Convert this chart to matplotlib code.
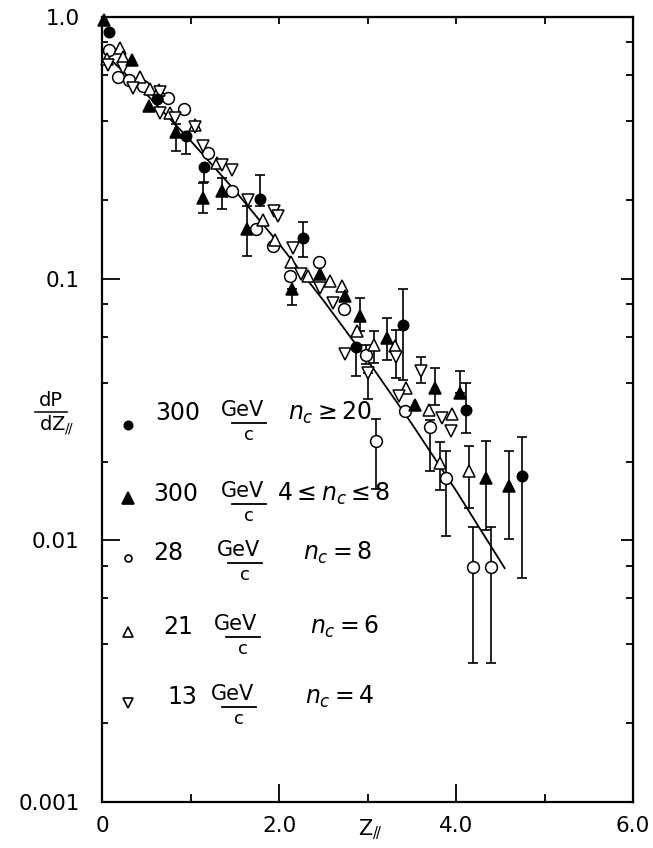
import numpy as np
import matplotlib.pyplot as plt
from matplotlib.ticker import FixedLocator, NullFormatter, LogLocator

# ---- data ----
# 300 GeV/c, n_c >= 20 (filled circles)
fc_z = [0.08, 0.62, 0.95, 1.15, 1.79, 2.27, 2.87, 3.40, 4.11, 4.75]
fc_y = [0.88, 0.485, 0.35, 0.268, 0.201, 0.143, 0.0548, 0.0667, 0.0316, 0.0176]
fc_err_z = [0.95, 1.15, 1.79, 2.27, 2.87, 3.40, 4.11, 4.75]
fc_err_y = [0.35, 0.268, 0.201, 0.143, 0.0548, 0.0667, 0.0316, 0.0176]
fc_err_lo = [0.30, 0.235, 0.19, 0.121, 0.0424, 0.0411, 0.0258, 0.0072]
fc_err_hi = [0.35, 0.268, 0.248, 0.164, 0.0548, 0.0913, 0.040, 0.0249]

# 300 GeV/c, 4 <= n_c <= 8 (filled triangles)
ft_z = [0.02, 0.335, 0.53, 0.84, 1.14, 1.36, 1.64, 2.15, 2.46, 2.75, 2.92,
        3.22, 3.54, 3.76, 4.04, 4.34, 4.60]
ft_y = [0.97, 0.685, 0.455, 0.365, 0.203, 0.216, 0.155, 0.091, 0.104, 0.0856,
        0.0718, 0.0594, 0.033, 0.0383, 0.0366, 0.0173, 0.0161]
ft_err_z = [0.84, 1.14, 1.36, 1.64, 2.15, 2.92, 3.22, 3.76, 4.04, 4.34, 4.60]
ft_err_y = [0.365, 0.203, 0.216, 0.155, 0.091, 0.0718, 0.0594, 0.0383, 0.0366, 0.0173, 0.0161]
ft_err_lo = [0.308, 0.178, 0.185, 0.122, 0.079, 0.063, 0.049, 0.033, 0.0366, 0.011, 0.0101]
ft_err_hi = [0.39, 0.232, 0.242, 0.189, 0.091, 0.084, 0.0708, 0.0457, 0.0442, 0.024, 0.0219]

# 28 GeV/c, n_c = 8 (open circles)
oc_z = [0.08, 0.185, 0.30, 0.46, 0.75, 0.93, 1.20, 1.47, 1.74, 1.93, 2.12,
        2.45, 2.73, 2.98, 3.10, 3.42, 3.71, 3.89, 4.19, 4.40]
oc_y = [0.748, 0.59, 0.575, 0.545, 0.49, 0.446, 0.303, 0.216, 0.155, 0.133,
        0.102, 0.116, 0.0766, 0.0513, 0.0239, 0.0312, 0.0272, 0.0173, 0.0079, 0.0079]
oc_err_z = [2.98, 3.10, 3.71, 3.89, 4.19, 4.40]
oc_err_y = [0.0513, 0.0239, 0.0272, 0.0173, 0.0079, 0.0079]
oc_err_lo = [0.047, 0.0157, 0.0184, 0.0104, 0.0034, 0.0034]
oc_err_hi = [0.056, 0.0291, 0.0289, 0.0219, 0.0112, 0.0112]

# 21 GeV/c, n_c = 6 (open triangles up)
ot_z = [0.06, 0.20, 0.24, 0.43, 0.54, 0.64, 0.77, 1.05, 1.30, 1.82, 1.95, 2.14,
        2.33, 2.58, 2.71, 2.88, 3.07, 3.31, 3.44, 3.69, 3.82, 3.96, 4.15]
ot_y = [0.69, 0.759, 0.705, 0.592, 0.53, 0.526, 0.429, 0.387, 0.276, 0.168,
        0.141, 0.116, 0.102, 0.0977, 0.094, 0.0629, 0.056, 0.0551, 0.0383,
        0.0316, 0.0198, 0.0305, 0.0184]
ot_err_z = [3.07, 3.82, 4.15]
ot_err_y = [0.056, 0.0198, 0.0184]
ot_err_lo = [0.0476, 0.0156, 0.0133]
ot_err_hi = [0.063, 0.0238, 0.0229]

# 13 GeV/c, n_c = 4 (open triangles down)
od_z = [0.07, 0.24, 0.35, 0.66, 0.65, 0.82, 1.05, 1.14, 1.36, 1.47, 1.65, 1.94,
        1.99, 2.16, 2.25, 2.46, 2.61, 2.75, 3.00, 3.32, 3.36, 3.61, 3.84, 3.94]
od_y = [0.656, 0.637, 0.534, 0.519, 0.429, 0.41, 0.381, 0.32, 0.272, 0.261,
        0.20, 0.181, 0.173, 0.131, 0.104, 0.092, 0.081, 0.0517, 0.0437, 0.0502,
        0.0357, 0.0443, 0.0294, 0.0261]
od_err_z = [3.00, 3.32, 3.61]
od_err_y = [0.0437, 0.0502, 0.0443]
od_err_lo = [0.0346, 0.0418, 0.040]
od_err_hi = [0.0437, 0.0638, 0.050]

# hand drawn curve
fit_z = [0.0, 0.5, 1.0, 1.5, 2.0, 2.5, 3.0, 3.5, 4.0, 4.55]
fit_y = [0.741, 0.508, 0.337, 0.2175, 0.136, 0.0827, 0.0488, 0.0279, 0.0155, 0.00783]

# legend rows
leg_energy = ["300", "300", "28", "21", "13"]
leg_cond = [r"$n_c \geq 20$", r"$4\leq n_c \leq 8$", r"$n_c = 8$", r"$n_c = 6$", r"$n_c = 4$"]

W, H = 653, 848
fig = plt.figure(figsize=(W / 100, H / 100), dpi=100)
ax = fig.add_axes([102 / W, 1 - 802 / H, (633 - 102) / W, (802 - 17) / H])


def fx(x):
    return x / W


def fy(y):
    return 1 - y / H


ax.set_yscale('log')
ax.set_xlim(0, 6)
ax.set_ylim(0.001, 1.0)

ax.plot(fit_z, fit_y, color='black', lw=1.3, zorder=2)

ekw = dict(fmt='none', ecolor='black', elinewidth=1.2, capsize=3.5, capthick=1.2, zorder=1)


def errs(z, y, lo, hi):
    y = np.array(y)
    ax.errorbar(z, y, yerr=[y - np.array(lo), np.array(hi) - y], **ekw)


errs(fc_err_z, fc_err_y, fc_err_lo, fc_err_hi)
errs(ft_err_z, ft_err_y, ft_err_lo, ft_err_hi)
errs(oc_err_z, oc_err_y, oc_err_lo, oc_err_hi)
errs(ot_err_z, ot_err_y, ot_err_lo, ot_err_hi)
errs(od_err_z, od_err_y, od_err_lo, od_err_hi)

mkw = dict(ls='none', mec='black', mew=1.1, zorder=3, clip_on=False)
ax.plot(oc_z, oc_y, marker='o', ms=8.5, mfc='white', **mkw)
ax.plot(ot_z, ot_y, marker='^', ms=9, mfc='white', **mkw)
ax.plot(od_z, od_y, marker='v', ms=9, mfc='white', **mkw)
ax.plot(fc_z, fc_y, marker='o', ms=7.5, mfc='black', **mkw)
ax.plot(ft_z, ft_y, marker='^', ms=9, mfc='black', **mkw)

# axes styling
for s in ax.spines.values():
    s.set_linewidth(1.6)

ax.xaxis.set_major_locator(FixedLocator([0, 2, 4, 6]))
ax.xaxis.set_minor_locator(FixedLocator([1, 3, 5]))
ax.set_xticklabels(["0", "2.0", "4.0", "6.0"])
ax.yaxis.set_major_locator(FixedLocator([0.001, 0.01, 0.1, 1.0]))
ax.yaxis.set_minor_locator(LogLocator(base=10, subs=[2, 4, 6, 8]))
ax.yaxis.set_minor_formatter(NullFormatter())
ax.set_yticklabels(["0.001", "0.01", "0.1", "1.0"])

ax.tick_params(which='both', direction='in', width=1.3, labelsize=15.5,
               top=False, right=False)
ax.tick_params(axis='x', which='major', length=13, pad=10)
ax.tick_params(axis='x', which='minor', length=6)
ax.tick_params(axis='y', which='major', length=13, pad=16)
ax.tick_params(axis='y', which='minor', length=4)

top = ax.secondary_xaxis('top')
top.set_xticks([1, 2, 3, 4, 5])
top.tick_params(direction='in', length=5, width=1.3, labeltop=False)
right = ax.secondary_yaxis('right')
right.set_yscale('log')
right.yaxis.set_major_locator(FixedLocator([0.01, 0.1]))
right.yaxis.set_minor_locator(LogLocator(base=10, subs=[2, 4, 6, 8]))
right.yaxis.set_major_formatter(NullFormatter())
right.yaxis.set_minor_formatter(NullFormatter())
right.tick_params(which='major', direction='in', length=9, width=1.3)
right.tick_params(which='minor', direction='in', length=5, width=1.3)

# axis labels
fig.text(fx(51), fy(400), "dP", ha='center', va='center', fontsize=14)
fig.add_artist(plt.Line2D([fx(35), fx(67)], [fy(412), fy(412)], color='black', lw=1.1))
fig.text(fx(56), fy(425), r"dZ$_{/\!/}$", ha='center', va='center', fontsize=14)
fig.text(fx(370), fy(830), r"Z$_{/\!/}$", ha='center', va='center', fontsize=15)

# hand written legend
row_y = [413, 494, 553, 627, 697]
mark_y = [425, 498, 558, 632, 703]
leg_mk = [('o', 'black', 6), ('^', 'black', 8), ('o', 'white', 5), ('^', 'white', 7), ('v', 'white', 7)]
energy_x = [155, 153, 153, 163, 167]
gev_x = [218, 218, 214, 212, 208]
cond_x = [288, 277, 303, 310, 305]

for i in range(5):
    m, fcol, ms = leg_mk[i]
    fig.add_artist(plt.Line2D([fx(128)], [fy(mark_y[i])], marker=m, ms=ms, mfc=fcol,
                              mec='black', mew=1.2, ls='none'))
    y0 = row_y[i]
    fig.text(fx(energy_x[i]), fy(y0), leg_energy[i], ha='left', va='center', fontsize=17)
    fig.text(fx(gev_x[i] + 24), fy(y0 - 3), "GeV", ha='center', va='center', fontsize=15)
    fig.add_artist(plt.Line2D([fx(gev_x[i] + 14), fx(gev_x[i] + 48)],
                              [fy(y0 + 10), fy(y0 + 10)], color='black', lw=1.3))
    fig.text(fx(gev_x[i] + 31), fy(y0 + 22), "c", ha='center', va='center', fontsize=13)
    fig.text(fx(cond_x[i]), fy(y0), leg_cond[i], ha='left', va='center', fontsize=17)

fig.savefig("out.png", dpi=100)
